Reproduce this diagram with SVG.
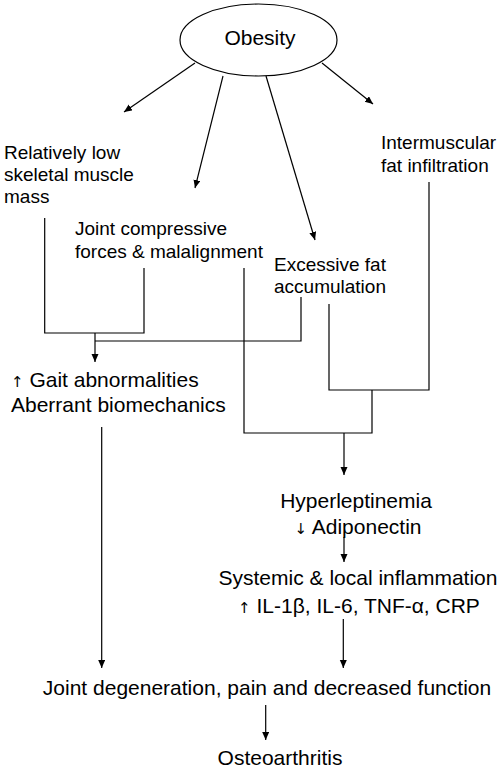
<svg xmlns="http://www.w3.org/2000/svg" width="504" height="771" viewBox="0 0 504 771">
<defs>
<marker id="ah" markerUnits="userSpaceOnUse" markerWidth="9" markerHeight="8" refX="8" refY="3.5" orient="auto">
<path d="M0,0 L8,3.5 L0,7 z" fill="#000"/>
</marker>
<style>
text{font-family:"Liberation Sans",Arial,sans-serif;fill:#000}
.s{font-size:19px}
.l{font-size:21px}
.c{text-anchor:middle}
.a{font-family:"DejaVu Sans",sans-serif;fill:#000;font-size:15px}
.ln{stroke:#000;stroke-width:1.2;fill:none}
.ar{stroke:#000;stroke-width:1.2;fill:none;marker-end:url(#ah)}
</style>
</defs>
<rect width="504" height="771" fill="#fff"/>
<g id="obesity">
<ellipse cx="258.5" cy="40" rx="78.5" ry="36" fill="#fff" stroke="#000" stroke-width="1.2"/>
<text class="l c" x="260" y="45">Obesity</text>
</g>
<g id="low-muscle">
<text class="s" x="4" y="159">Relatively low</text>
<text class="s" x="4" y="181">skeletal muscle</text>
<text class="s" x="4" y="203">mass</text>
</g>
<g id="intermuscular">
<text class="s" x="381" y="149">Intermuscular</text>
<text class="s" x="381" y="172">fat infiltration</text>
</g>
<g id="joint-forces">
<text class="s" x="75" y="235">Joint compressive</text>
<text class="s" x="75" y="258">forces &amp; malalignment</text>
</g>
<g id="excess-fat">
<text class="s" x="274" y="271">Excessive fat</text>
<text class="s" x="274" y="293">accumulation</text>
</g>
<g id="gait">
<text class="l" x="11" y="387"><tspan class="a">↑</tspan> Gait abnormalities</text>
<text class="l" x="11" y="412">Aberrant biomechanics</text>
</g>
<g id="hyperleptinemia">
<text class="l c" x="356" y="508">Hyperleptinemia</text>
<text class="l c" x="358" y="534"><tspan class="a">↓</tspan> Adiponectin</text>
</g>
<g id="inflammation">
<text class="l c" x="358" y="585">Systemic &amp; local inflammation</text>
<text class="l c" x="359" y="613"><tspan class="a">↑</tspan> IL-1β, IL-6, TNF-α, CRP</text>
</g>
<g id="joint-degeneration">
<text class="l c" x="267" y="695">Joint degeneration, pain and decreased function</text>
</g>
<g id="osteoarthritis">
<text class="l c" x="280" y="765">Osteoarthritis</text>
</g>
<g id="connectors">
<line class="ar" x1="195" y1="63" x2="124" y2="112"/>
<line class="ar" x1="223" y1="76" x2="195" y2="188"/>
<line class="ar" x1="266" y1="76" x2="315" y2="240"/>
<line class="ar" x1="322" y1="63" x2="373" y2="104"/>
<polyline class="ln" points="44.7,218 44.7,333 144,333 144,268"/>
<line class="ar" x1="95" y1="333" x2="95" y2="362"/>
<polyline class="ln" points="95,341 301,341 301,297"/>
<polyline class="ln" points="244,268 244,433 372,433 372,390"/>
<polyline class="ln" points="329,304 329,390 429,390 429,182"/>
<line class="ar" x1="344" y1="433" x2="344" y2="475"/>
<line class="ar" x1="344" y1="537" x2="344" y2="562"/>
<line class="ar" x1="101.7" y1="427" x2="101.7" y2="668"/>
<line class="ar" x1="343.3" y1="619" x2="343.3" y2="668"/>
<line class="ar" x1="265.7" y1="705" x2="265.7" y2="740"/>
</g>
</svg>
